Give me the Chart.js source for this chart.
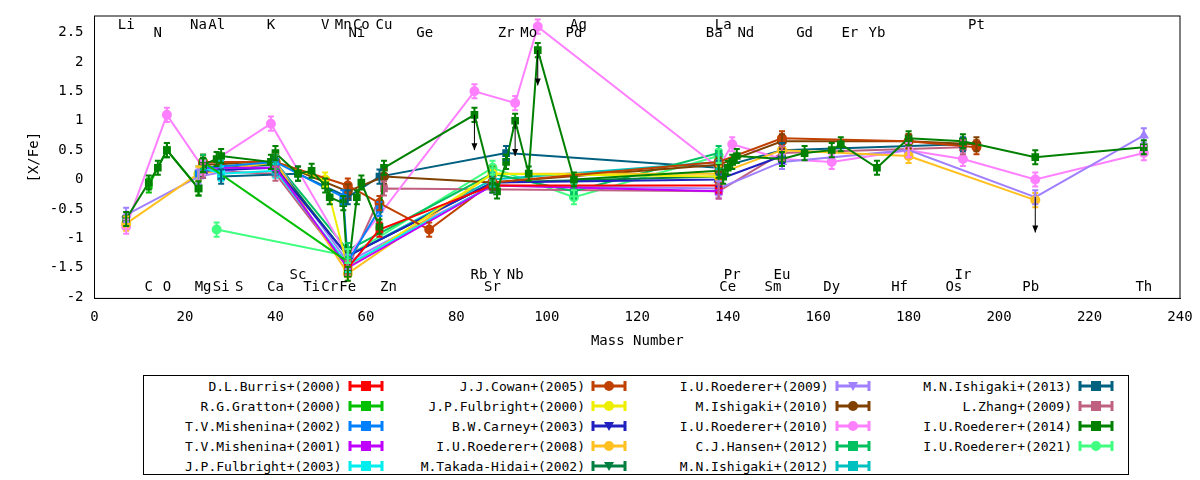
<!DOCTYPE html>
<html><head><meta charset="utf-8">
<script src="https://cdn.jsdelivr.net/npm/chart.js@4/dist/chart.umd.min.js"></script>
<style>
body{margin:0;background:#fff;font-family:"DejaVu Sans Mono",monospace;}
#wrap{position:relative;width:1200px;height:360px;}
#leg{position:absolute;left:143px;top:375px;width:986px;height:100px;border:1px solid #000;box-sizing:border-box;
 display:grid;grid-template-columns:repeat(4,1fr);grid-auto-flow:column;grid-template-rows:repeat(5,20px);font-size:13px;padding-left:10px;}
#leg div{display:flex;align-items:center;justify-content:flex-end;padding-right:14px;}
#leg canvas{margin-left:6px;}
</style></head><body>
<div id="wrap"><canvas id="c" width="1200" height="360"></canvas></div>
<div id="leg"></div>
<script>
// element labels [mass, symbol, row]  rows: 0 top, 1 second, 2 lower, 3 bottom
var elems = [[7,'Li',0],[23,'Na',0],[27,'Al',0],[39,'K',0],[51,'V',0],[55,'Mn',0],[59,'Co',0],[64,'Cu',0],[107,'Ag',0],[139,'La',0],[195,'Pt',0],
 [14,'N',1],[58,'Ni',1],[73,'Ge',1],[91,'Zr',1],[96,'Mo',1],[106,'Pd',1],[137,'Ba',1],[144,'Nd',1],[157,'Gd',1],[167,'Er',1],[173,'Yb',1],
 [45,'Sc',2],[85,'Rb',2],[89,'Y',2],[93,'Nb',2],[141,'Pr',2],[152,'Eu',2],[192,'Ir',2],
 [12,'C',3],[16,'O',3],[24,'Mg',3],[28,'Si',3],[32,'S',3],[40,'Ca',3],[48,'Ti',3],[52,'Cr',3],[56,'Fe',3],[65,'Zn',3],[88,'Sr',3],[140,'Ce',3],[150,'Sm',3],[163,'Dy',3],[178,'Hf',3],[190,'Os',3],[207,'Pb',3],[232,'Th',3]];

var names = ['D.L.Burris+(2000)','R.G.Gratton+(2000)','T.V.Mishenina+(2002)','T.V.Mishenina+(2001)','J.P.Fulbright+(2003)',
 'J.J.Cowan+(2005)','J.P.Fulbright+(2000)','B.W.Carney+(2003)','I.U.Roederer+(2008)','M.Takada-Hidai+(2002)',
 'I.U.Roederer+(2009)','M.Ishigaki+(2010)','I.U.Roederer+(2010)','C.J.Hansen+(2012)','M.N.Ishigaki+(2012)',
 'M.N.Ishigaki+(2013)','L.Zhang+(2009)','I.U.Roederer+(2014)','I.U.Roederer+(2021)'];
var colors = ['#ff0000','#00c000','#0080ff','#c000ff','#00eeee','#c04000','#eeee00','#2020c0','#ffc020','#008040',
 '#a080ff','#804000','#ff80ff','#00c060','#00c0c0','#006080','#c06080','#008000','#40ff80'];
var shapes = ['rect','rect','rect','rect','rect','circle','circle','triangle','circle','triangle','triangle','circle','circle','rect','rect','rect','rect','rect','circle'];

var burris = [[56,-1.5],[63,-0.85],[88,-0.1],[138,-0.1]];
var gratton = [[12,-0.1],[16,0.5],[23,-0.15],[24,0.3],[56,-1.4]];
var mish02 = [[23,0.1],[24,0.2],[40,0.3],[55,-0.3],[56,-1.4],[63,-0.5]];
var mish01 = [[24,0.2],[40,0.2],[56,-1.5],[88,-0.1],[138,-0.2]];
var fulb03 = [[24,0.2],[28,0.1],[40,0.15],[56,-1.45],[88,-0.1]];
var cowan = [[24,0.3],[40,0.3],[56,-0.1],[63,-0.4],[74,-0.85],[88,-0.05],[138,0.3],[152,0.7],[180,0.65],[195,0.55]];
var fulb00 = [[23,0.1],[24,0.2],[40,0.3],[51,0.0],[56,-1.5],[88,0.1],[138,0.05]];
var carney = [[24,0.15],[40,0.2],[56,-1.3],[88,-0.05],[138,0.0],[152,0.4]];
var roed08 = [[7,-0.75],[23,0.1],[40,0.3],[56,-1.6],[88,0.1],[138,0.1],[152,0.5],[180,0.4],[208,-0.35]];
var takada = [[24,0.2],[40,0.25],[56,-1.3],[88,-0.05],[138,0.05]];
var roed09 = [[7,-0.6],[23,0.05],[40,0.3],[56,-1.4],[88,-0.1],[138,-0.15],[152,0.3],[180,0.5],[208,-0.3],[232,0.75]];
var ishi10 = [[24,0.25],[40,0.3],[56,-0.2],[64,0.05],[88,-0.05],[138,0.25],[152,0.65],[180,0.65],[195,0.6]];
var roed10 = [[7,-0.8],[16,1.1],[24,0.2],[39,0.95],[56,-1.3],[84,1.5],[93,1.3],[98,2.6],[138,0.2],[141,0.6],[152,0.35],[163,0.3],[180,0.5],[192,0.35],[208,0.0],[232,0.45]];
var hansen = [[24,0.3],[40,0.3],[56,-1.2],[88,0.1],[106,-0.2],[138,0.45]];
var ishi12 = [[28,0.2],[40,0.2],[56,-1.3],[88,0.0],[138,0.3]];
var ishi13 = [[28,0.05],[45,0.1],[56,-0.3],[63,0.05],[91,0.45],[138,0.2],[152,0.5],[192,0.6]];
var zhang = [[24,0.15],[40,0.1],[56,-1.5],[64,-0.15],[138,-0.2],[152,0.45],[192,0.55]];
var roed14 = [[7,-0.67],[12,-0.05],[14,0.2],[16,0.5],[23,-0.15],[24,0.25],[27,0.35],[28,0.4],[39,0.3],[40,0.45],[45,0.1],[48,0.15],[51,-0.1],[52,-0.3],[55,-0.4],[56,-1.6],[58,-0.3],[59,-0.05],[63,-0.8],[64,0.2],[84,1.1],[88,-0.1],[89,-0.2],[91,0.3],[93,1.0],[96,0.1],[98,2.2],[106,0.0],[138,0.15],[139,0.05],[140,0.2],[141,0.3],[142,0.4],[152,0.35],[157,0.45],[163,0.5],[165,0.6],[173,0.2],[180,0.7],[192,0.65],[208,0.38],[232,0.55]];
var roed21 = [[27,-0.85],[56,-1.3],[88,0.2],[106,-0.3],[138,0.4]];
var series = [burris,gratton,mish02,mish01,fulb03,cowan,fulb00,carney,roed08,takada,roed09,ishi10,roed10,hansen,ishi12,ishi13,zhang,roed14,roed21];
// upper limits [mass, value]
var limits = [[84,1.1],[93,1.0],[98,2.2],[208,-0.3]];

var datasets = series.map(function(s,i){
  return {label:names[i],data:s.map(function(p){return {x:p[0],y:p[1]};}),borderColor:colors[i],backgroundColor:colors[i],
    borderWidth:2,pointStyle:shapes[i],pointRadius:4,showLine:true,fill:false,order:i==17?0:1};
});

var deco = {
  id:'deco',
  afterDatasetsDraw:function(ch){
    var c=ch.ctx,xs=ch.scales.x,ys=ch.scales.y,a=ch.chartArea;
    c.save();
    // error bars
    ch.data.datasets.forEach(function(ds){
      c.strokeStyle=ds.borderColor;c.lineWidth=2;
      ds.data.forEach(function(p){
        var x=xs.getPixelForValue(p.x),y1=ys.getPixelForValue(p.y+0.12),y2=ys.getPixelForValue(p.y-0.12);
        c.beginPath();c.moveTo(x,y1);c.lineTo(x,y2);c.moveTo(x-3,y1);c.lineTo(x+3,y1);c.moveTo(x-3,y2);c.lineTo(x+3,y2);c.stroke();
      });
    });
    // limit arrows
    c.strokeStyle='#000';c.fillStyle='#000';c.lineWidth=1;
    limits.forEach(function(l){
      var x=xs.getPixelForValue(l[0]),y=ys.getPixelForValue(l[1]),y2=ys.getPixelForValue(l[1]-0.6);
      c.beginPath();c.moveTo(x,y);c.lineTo(x,y2);c.stroke();
      c.beginPath();c.moveTo(x-3,y2-7);c.lineTo(x+3,y2-7);c.lineTo(x,y2);c.fill();
    });
    // frame
    c.strokeRect(a.left,a.top,a.right-a.left,a.bottom-a.top);
    // element names
    c.font='14px "DejaVu Sans Mono"';c.textAlign='center';c.textBaseline='middle';
    var rows=[25,33,275,287];
    elems.forEach(function(e){c.fillText(e[1],xs.getPixelForValue(e[0]),rows[e[2]]);});
    c.restore();
  }
};

new Chart(document.getElementById('c'),{
  type:'scatter',
  data:{datasets:datasets},
  options:{responsive:false,animation:false,
    layout:{padding:{left:22,right:20,top:16,bottom:6}},
    plugins:{legend:{display:false},tooltip:{enabled:false}},
    scales:{
      x:{type:'linear',min:0,max:240,grid:{display:false},border:{color:'#000'},
        ticks:{stepSize:20,color:'#000',font:{family:'DejaVu Sans Mono',size:14}},
        title:{display:true,text:'Mass Number',color:'#000',font:{family:'DejaVu Sans Mono',size:14}}},
      y:{min:-2.02,max:2.78,grid:{display:false},border:{color:'#000'},
        afterBuildTicks:function(a){a.ticks=[-2,-1.5,-1,-0.5,0,0.5,1,1.5,2,2.5].map(function(v){return {value:v};});},
        ticks:{color:'#000',font:{family:'DejaVu Sans Mono',size:14},callback:function(v){return String(v);}},
        title:{display:true,text:'[X/Fe]',color:'#000',font:{family:'DejaVu Sans Mono',size:14}}}
    }},
  plugins:[deco]
});

var leg=document.getElementById('leg');
names.forEach(function(n,i){
  var d=document.createElement('div');d.textContent=n;
  var cv=document.createElement('canvas');cv.width=36;cv.height=14;
  var g=cv.getContext('2d');g.strokeStyle=colors[i];g.fillStyle=colors[i];g.lineWidth=3;
  g.beginPath();g.moveTo(2,7);g.lineTo(34,7);g.moveTo(2,2);g.lineTo(2,12);g.moveTo(34,2);g.lineTo(34,12);g.stroke();
  g.beginPath();
  if(shapes[i]=='circle')g.arc(18,7,5,0,7);else if(shapes[i]=='triangle'){g.moveTo(13,3);g.lineTo(23,3);g.lineTo(18,12);}else g.rect(13,2,10,10);
  g.fill();
  d.appendChild(cv);leg.appendChild(d);
});
</script></body></html>
